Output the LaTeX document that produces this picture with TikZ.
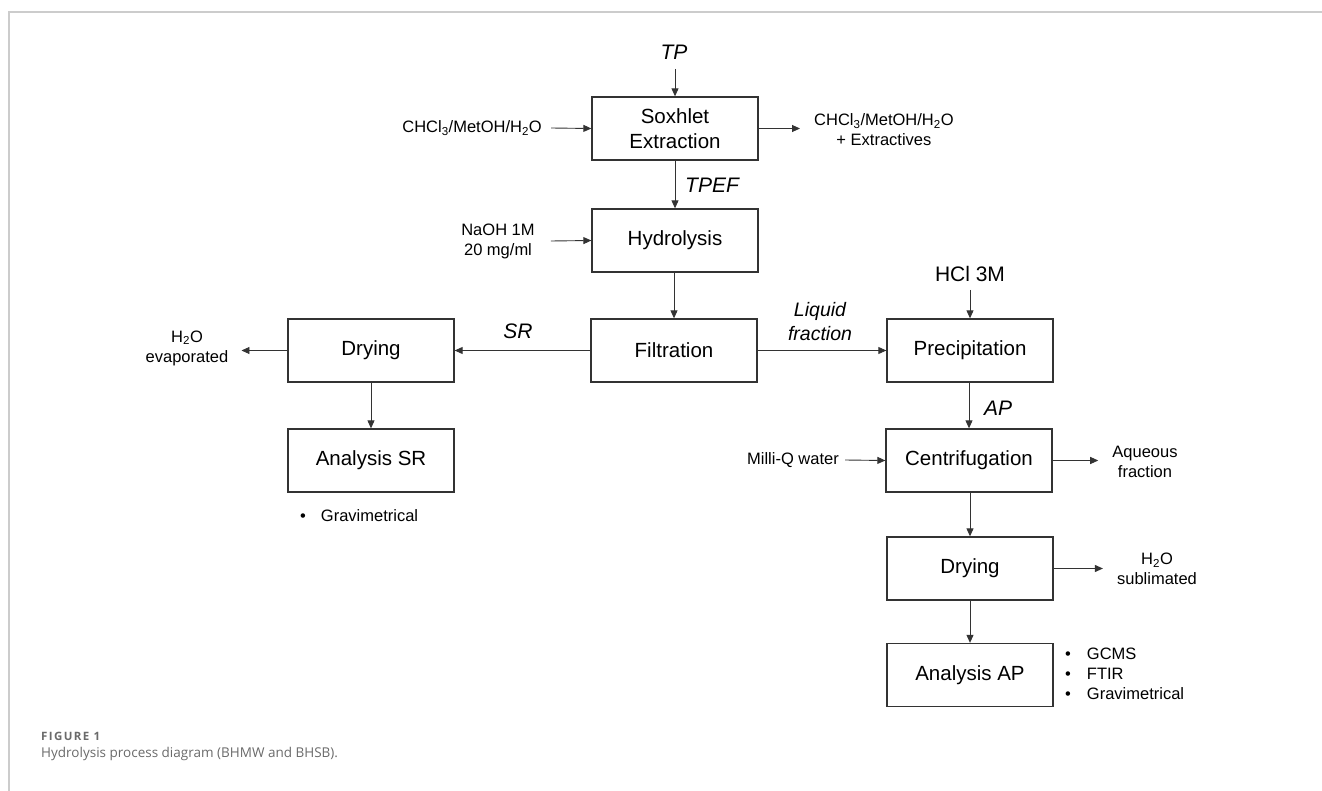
\documentclass[tikz,border=0pt]{standalone}
\usepackage{fontspec}
\setmainfont{Liberation Sans}
\newfontfamily\capfont{Open Sans}
\newfontfamily\capfontb[LetterSpace=12]{Open Sans}
\usetikzlibrary{arrows.meta}
\definecolor{linec}{HTML}{333333}
\definecolor{capgray}{HTML}{6A6A6A}
\definecolor{framegray}{HTML}{CCCCCC}
\tikzset{
  procbox/.style={draw=linec, line width=1.3pt, minimum width=166pt, minimum height=63pt, inner sep=0pt, align=center, font=\fontsize{20.5}{25}\selectfont},
  lbl/.style={inner sep=0pt, align=center, font=\fontsize{16.5}{20}\selectfont},
  itl/.style={inner sep=0pt, align=center, font=\fontsize{21}{24}\selectfont\itshape},
  arr/.style={draw=linec, line width=0.9pt, -{Triangle[length=8pt,width=7pt]}},
  plain/.style={draw=linec, line width=0.9pt}
}
\begin{document}
\begin{tikzpicture}[x=1pt,y=-1pt]
\useasboundingbox (0,0) rectangle (1322,791);
\draw[framegray, line width=1.5pt] (9,791) -- (9,12) -- (1322,12);

% process boxes
\node[procbox] (sox) at (675,128.5) {Soxhlet\\Extraction};
\node[procbox] (hyd) at (675,240.5) {Hydrolysis};
\node[procbox] (fil) at (674,350.5) {Filtration};
\node[procbox] (pre) at (970,350.5) {Precipitation};
\node[procbox] (cen) at (969,460.5) {Centrifugation};
\node[procbox] (dryR) at (970,568.5) {Drying};
\node[procbox] (anaAP) at (970,675) {Analysis AP};
\node[procbox] (dryL) at (371,350.5) {Drying};
\node[procbox] (anaSR) at (371,460.5) {Analysis SR};

% labels
\node[itl] (tp) at (674,52) {TP};
\coordinate (tpend) at (675,69);
\node[lbl, anchor=east] (chclL) at (542,128) {CHCl\textsubscript{3}/MetOH/H\textsubscript{2}O};
\node[lbl, anchor=west] (chclR) at (814,130) {CHCl\textsubscript{3}/MetOH/H\textsubscript{2}O\\+ Extractives};
\node[itl, anchor=west] (tpef) at (685,185) {TPEF};
\node[lbl] (naoh) at (498,241) {NaOH 1M\\20 mg/ml};
\node[itl, font=\fontsize{19.5}{24}\selectfont\itshape] (liq) at (820,322) {Liquid\\fraction};
\node[lbl, font=\fontsize{21}{24}\selectfont] (hcl) at (970,274) {HCl 3M};
\coordinate (hclend) at (970,290);
\node[itl] (sr) at (518,331) {SR};
\node[lbl] (evap) at (187,348) {H\textsubscript{2}O\\evaporated};
\node[itl, anchor=west] (ap) at (984,408) {AP};
\node[lbl, anchor=east] (milli) at (839,460) {Milli-Q water};
\node[lbl] (aq) at (1145,462) {Aqueous\\fraction};
\node[lbl] (subl) at (1157,569) {H\textsubscript{2}O\\sublimated};
\node[lbl, anchor=west, align=left] (bulAP) at (1065,674) {\textbullet\hspace{16pt}GCMS\\\textbullet\hspace{16pt}FTIR\\\textbullet\hspace{16pt}Gravimetrical};
\node[lbl, anchor=west, align=left] (bulSR) at (300,516) {\textbullet\hspace{15pt}Gravimetrical};

% connectors
\draw[arr] (tpend) -- (sox.north);
\draw[arr] ([xshift=9pt]chclL.east) -- (sox.west);
\draw[arr] (sox.east) -- ([xshift=-14pt]chclR.west |- sox.east);
\draw[arr] (sox.south) -- (hyd.north);
\draw[arr] ([xshift=16pt]naoh.east) -- (hyd.west);
\draw[arr] (hyd.south -| fil.north) -- (fil.north);
\draw[arr] (fil.east) -- (pre.west);
\draw[arr] (hclend) -- (pre.north);
\draw[arr] (fil.west) -- (dryL.east);
\draw[arr] (dryL.west) -- ([xshift=13pt]evap.east |- dryL.west);
\draw[arr] (dryL.south) -- (anaSR.north);
\draw[arr] (pre.south -| cen.north) -- (cen.north);
\draw[arr] ([xshift=6pt]milli.east) -- (cen.west);
\draw[arr] (cen.east) -- ([xshift=-14pt]aq.west |- cen.east);
\draw[arr] (cen.south) -- (cen.south -| dryR.north) -- (dryR.north);
\draw[arr] (dryR.east) -- ([xshift=-14pt]subl.west |- dryR.east);
\draw[arr] (dryR.south) -- (anaAP.north);

% caption
\node[anchor=base west, inner sep=0pt, text=capgray, font=\capfontb\bfseries\fontsize{11.5}{13}\selectfont] (figlab) at (41,740) {FIGURE 1};
\node[anchor=base west, inner sep=0pt, text=capgray, font=\capfont\fontsize{13.5}{16}\selectfont] (figcap) at (41,757) {Hydrolysis process diagram (BHMW and BHSB).};
\end{tikzpicture}
\end{document}
